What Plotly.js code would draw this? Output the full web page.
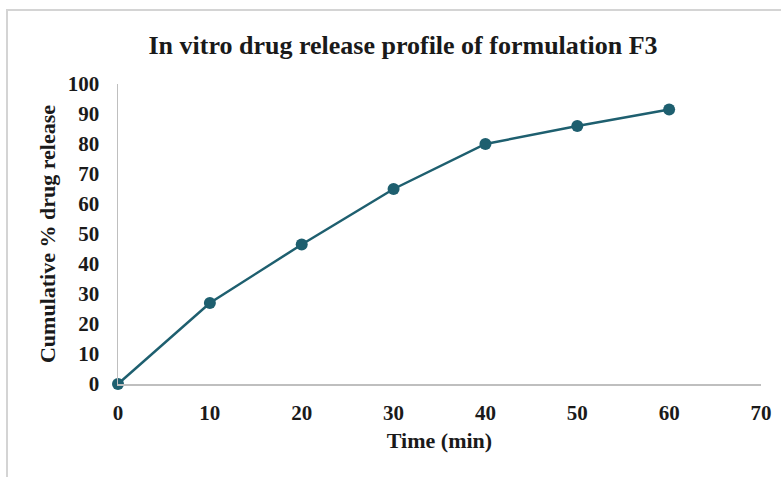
<!DOCTYPE html>
<html>
<head>
<meta charset="utf-8">
<script src="https://cdn.plot.ly/plotly-3.0.1.min.js"></script>
<style>
html,body{margin:0;padding:0;background:#fff;}
#chart{width:781px;height:477px;}
</style>
</head>
<body>
<div id="chart"></div>
<script>
const timeMin = [0, 10, 20, 30, 40, 50, 60];
const releasePct = [0, 27, 46.5, 65, 80, 86, 91.5];
const xTicks = [0, 10, 20, 30, 40, 50, 60, 70];
const yTicks = [0, 10, 20, 30, 40, 50, 60, 70, 80, 90, 100];

const serif = '"Liberation Serif", "Times New Roman", serif';
const lineColor = '#1e5f6f';

const trace = {
  x: timeMin,
  y: releasePct,
  type: 'scatter',
  mode: 'lines+markers',
  line: {color: lineColor, width: 2.5},
  marker: {color: lineColor, size: 12},
  cliponaxis: false,
  hoverinfo: 'skip'
};

const layout = {
  width: 781,
  height: 477,
  margin: {l: 118, r: 20, t: 84, b: 93},
  paper_bgcolor: '#ffffff',
  plot_bgcolor: '#ffffff',
  showlegend: false,
  title: {
    text: '<b>In vitro drug release profile of formulation F3</b>',
    font: {family: serif, size: 26, color: '#1a1a1a'},
    x: 0.516, xanchor: 'center',
    y: 0.905, yanchor: 'middle'
  },
  xaxis: {
    range: [0, 70],
    tickvals: xTicks,
    ticktext: xTicks.map(v => '<b>' + v + '</b>'),
    showgrid: false,
    zeroline: false,
    showline: true,
    linecolor: '#bfbfbf',
    linewidth: 1.5,
    ticks: '',
    ticklabelstandoff: 9,
    tickfont: {family: serif, size: 21, color: '#1a1a1a'},
    title: {text: '<b>Time (min)</b>', font: {family: serif, size: 22, color: '#1a1a1a'}, standoff: 9}
  },
  yaxis: {
    range: [0, 100],
    tickvals: yTicks,
    ticktext: yTicks.map(v => '<b>' + v + '</b>'),
    showgrid: false,
    zeroline: false,
    showline: true,
    linecolor: '#bfbfbf',
    linewidth: 1.5,
    ticks: '',
    ticklabelstandoff: 13,
    tickfont: {family: serif, size: 21, color: '#1a1a1a'},
    title: {text: '<b>Cumulative % drug release</b>', font: {family: serif, size: 22, color: '#1a1a1a'}, standoff: 6}
  },
  shapes: [{
    type: 'rect', xref: 'paper', yref: 'paper',
    x0: -0.1726, x1: 1.2, y0: -0.5, y1: 1.2467,
    line: {color: '#d4d4d4', width: 2},
    fillcolor: 'rgba(0,0,0,0)',
    layer: 'below'
  }]
};

Plotly.newPlot('chart', [trace], layout, {displayModeBar: false, staticPlot: true});
</script>
</body>
</html>
